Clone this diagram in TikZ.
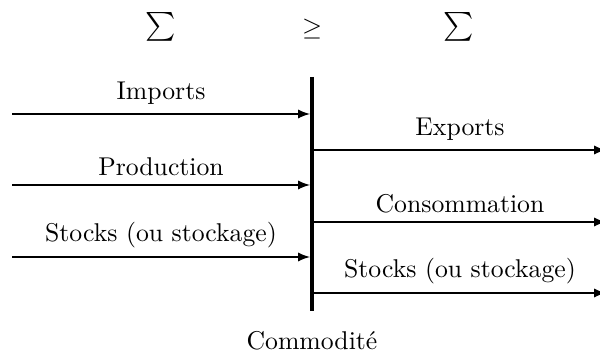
\documentclass[tikz,border=0pt]{standalone}
\usetikzlibrary{arrows, positioning}

\begin{document}
\begin{tikzpicture}[
                    x=0.389pt, y=-0.389pt,
                    flow/.style={-latex, semithick},
                    bar/.style={line width=1.6pt},
                    lbl/.style={midway, above},
                    sym/.style={inner sep=0pt, scale=1.12}
                ]
                \useasboundingbox (0,0) rectangle (600,354);

                % --- Commodity bar ---
                \coordinate (bar_top) at (312,77);
                \coordinate (bar_bot) at (312,311);
                \draw[bar] (bar_top) -- (bar_bot);
                \node[below=4.5pt of bar_bot] (commodity) {Commodit\'e};

                % --- Sums ---
                \node[sym] (sum_in) at (161,27) {$\sum$};
                \node[inner sep=0pt] (geq) at (312,29) {$\geq$};
                \node[sym] (sum_out) at (459,27) {$\sum$};

                % --- Inflows ---
                \coordinate (imp_a) at (12,114);
                \coordinate (imp_b) at (310,114);
                \coordinate (prod_a) at (12,185);
                \coordinate (prod_b) at (310,185);
                \coordinate (stin_a) at (12,257);
                \coordinate (stin_b) at (310,257);

                \draw[flow] (imp_a) -- (imp_b) node[lbl] (imp) {Imports};
                \draw[flow] (prod_a) -- (prod_b) node[lbl] (prod) {Production};
                \draw[flow] (stin_a) -- (stin_b) node[lbl] (stin) {Stocks (ou stockage)};

                % --- Outflows ---
                \coordinate (exp_a) at (314,150);
                \coordinate (exp_b) at (606,150);
                \coordinate (cons_a) at (314,222);
                \coordinate (cons_b) at (606,222);
                \coordinate (stout_a) at (314,293);
                \coordinate (stout_b) at (606,293);

                \draw[flow] (exp_a) -- (exp_b) node[lbl] (exp) {Exports};
                \draw[flow] (cons_a) -- (cons_b) node[lbl] (cons) {Consommation};
                \draw[flow] (stout_a) -- (stout_b) node[lbl] (stout) {Stocks (ou stockage)};

                \end{tikzpicture}
\end{document}
